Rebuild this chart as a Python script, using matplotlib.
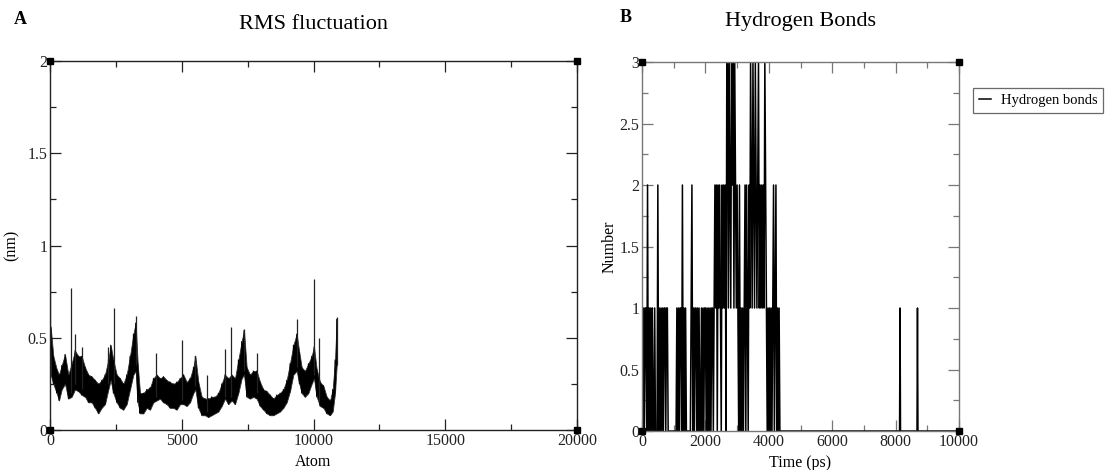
import numpy as np
import matplotlib
matplotlib.use("Agg")
import matplotlib.pyplot as plt
from matplotlib.ticker import MultipleLocator

plt.rcParams['font.family'] = ['Liberation Serif', 'DejaVu Serif']

# ---------------- Panel A: RMS fluctuation (band envelope) ----
rmsf_atom = [25, 126, 253, 342, 443, 569, 696, 822, 949, 1075, 1202, 1328, 1455,
             1581, 1708, 1834, 1961, 2087, 2214, 2302, 2404, 2530, 2657, 2783,
             2910, 3036, 3163, 3251, 3327, 3416, 3542, 3669, 3795, 3922, 4048,
             4175, 4301, 4428, 4554, 4681, 4807, 4934, 5060, 5187, 5313, 5440,
             5515, 5629, 5756, 5882, 6009, 6135, 6262, 6388, 6515, 6641, 6768,
             6894, 7021, 7147, 7274, 7362, 7463, 7590, 7716, 7843, 7970, 8096,
             8223, 8349, 8476, 8602, 8729, 8855, 8982, 9108, 9235, 9361, 9462,
             9551, 9677, 9804, 9930, 10019, 10120, 10247, 10373, 10500, 10626,
             10727, 10816, 10880]
rmsf_low = [0.30, 0.25, 0.20, 0.16, 0.22, 0.25, 0.17, 0.18, 0.22, 0.21, 0.19, 0.18,
            0.15, 0.15, 0.12, 0.09, 0.12, 0.14, 0.22, 0.27, 0.20, 0.15, 0.12, 0.11,
            0.14, 0.22, 0.30, 0.32, 0.15, 0.09, 0.09, 0.12, 0.11, 0.15, 0.16, 0.17,
            0.15, 0.14, 0.12, 0.12, 0.11, 0.14, 0.14, 0.13, 0.15, 0.20, 0.22, 0.12,
            0.08, 0.08, 0.07, 0.08, 0.09, 0.10, 0.13, 0.17, 0.14, 0.16, 0.14, 0.20,
            0.28, 0.30, 0.18, 0.17, 0.18, 0.17, 0.13, 0.11, 0.09, 0.08, 0.08, 0.09,
            0.10, 0.12, 0.15, 0.21, 0.30, 0.32, 0.25, 0.20, 0.18, 0.20, 0.25, 0.28,
            0.18, 0.13, 0.12, 0.09, 0.08, 0.10, 0.20, 0.35]
rmsf_high = [0.56, 0.40, 0.33, 0.30, 0.35, 0.41, 0.30, 0.36, 0.43, 0.40, 0.40, 0.34,
             0.30, 0.29, 0.27, 0.25, 0.27, 0.30, 0.38, 0.46, 0.38, 0.30, 0.28, 0.25,
             0.30, 0.40, 0.52, 0.58, 0.36, 0.20, 0.20, 0.22, 0.23, 0.28, 0.30, 0.28,
             0.29, 0.27, 0.26, 0.25, 0.26, 0.28, 0.30, 0.26, 0.28, 0.34, 0.40, 0.26,
             0.18, 0.17, 0.17, 0.18, 0.18, 0.20, 0.25, 0.30, 0.28, 0.30, 0.28, 0.38,
             0.48, 0.54, 0.34, 0.30, 0.32, 0.32, 0.26, 0.22, 0.21, 0.19, 0.17, 0.19,
             0.20, 0.22, 0.27, 0.36, 0.46, 0.52, 0.42, 0.34, 0.32, 0.36, 0.40, 0.45,
             0.33, 0.26, 0.24, 0.18, 0.16, 0.22, 0.38, 0.60]
spike_atom = [5, 800, 950, 1200, 2200, 2420, 3250, 4020, 5000, 5500, 5940, 6640,
              6870, 7360, 7850, 9360, 10000, 10200, 10880]
spike_val = [1.00, 0.77, 0.52, 0.45, 0.45, 0.66, 0.62, 0.42, 0.49, 0.40, 0.30,
             0.44, 0.56, 0.55, 0.42, 0.60, 0.82, 0.50, 0.61]
spike_base = [0.30, 0.20, 0.25, 0.22, 0.25, 0.25, 0.35, 0.18, 0.16, 0.24, 0.10,
              0.18, 0.18, 0.32, 0.20, 0.34, 0.30, 0.15, 0.35]

# ---------------- Panel B: Hydrogen bonds (25 ps sampling in active part) -------
hb_step = 25
hb_counts = [1, 0, 1, 0, 1, 1, 0, 2, 0, 1, 0, 1, 0, 1,
             0, 0, 1, 0, 0, 0,
             2, 0, 1, 0, 1, 0, 1, 0, 1, 1, 0, 1,
             1, 0, 0, 0, 0, 0, 0, 0, 0, 0, 0, 0,
             1, 0, 1, 0, 1, 1, 0, 2, 0, 1, 0, 1, 0,
             0, 0, 0, 0, 0, 1,
             2,
             0, 1, 0, 1, 1, 0, 1, 0, 1, 0, 0, 1, 0, 1, 0, 1, 1, 0, 1, 0, 1, 0,
             1, 0, 1, 1, 0, 1,
             2, 1, 2, 0, 2, 1, 2, 1, 0, 2, 1, 2, 1, 2, 0, 3,
             3, 1, 3, 2, 1, 3, 2, 3, 1, 3, 2, 1, 2, 1, 0, 2,
             0, 1, 0, 1, 0, 1, 2, 0, 2, 1, 0, 2, 1, 3,
             2, 1, 3, 2, 1, 3, 2, 1, 2, 3, 1, 2, 1, 2, 1, 2, 1, 3, 2, 1,
             0, 1, 0, 1, 0, 1, 0, 1, 2, 0, 1, 2, 0, 1, 0, 1, 0,
             0, 0]
hb_tail_time = [4425, 8125, 8140, 8155, 8675, 8690, 8705, 10000]
hb_tail_count = [0, 0, 1, 0, 0, 1, 0, 0]

hb_time = list(np.arange(len(hb_counts)) * hb_step) + hb_tail_time
hb_value = hb_counts + hb_tail_count

W, H = 1107, 470
fig = plt.figure(figsize=(W / 100, H / 100), dpi=100)

def frac(l, r, b, t):
    return [l / W, 1 - b / H, (r - l) / W, (b - t) / H]

axA = fig.add_axes(frac(50, 577, 430, 61))
axB = fig.add_axes(frac(642, 959, 431, 62))

# Panel A: dense band between the read envelopes, plus the isolated spikes
axA.fill_between(rmsf_atom, rmsf_low, rmsf_high, color='black', linewidth=0.6,
                 edgecolor='#333333')
zig_x = np.repeat(rmsf_atom, 2)
zig_y = np.column_stack([rmsf_low, rmsf_high]).ravel()
axA.plot(zig_x, zig_y, color='black', linewidth=0.7)
axA.vlines(spike_atom, spike_base, spike_val, color='#222222', linewidth=0.9)
axA.set_xlim(0, 20000)
axA.set_ylim(0, 2)
axA.xaxis.set_major_locator(MultipleLocator(5000))
axA.xaxis.set_minor_locator(MultipleLocator(2500))
axA.yaxis.set_minor_locator(MultipleLocator(0.25))
axA.set_yticks([0, 0.5, 1, 1.5, 2])
axA.set_yticklabels(['0', '0.5', '1', '1.5', '2'])
axA.set_xlabel('Atom', fontsize=11.5, labelpad=4)
axA.set_ylabel('(nm)', fontsize=11.5)
axA.yaxis.set_label_coords((20 - 50) / 527, 0.5)
axA.set_title('RMS fluctuation', fontsize=16, pad=23)

# Panel B
axB.plot(hb_time, hb_value, color='black', linewidth=1.1, label='Hydrogen bonds')
axB.set_xlim(0, 10000)
axB.set_ylim(0, 3)
axB.xaxis.set_major_locator(MultipleLocator(2000))
axB.xaxis.set_minor_locator(MultipleLocator(1000))
axB.yaxis.set_minor_locator(MultipleLocator(0.25))
axB.set_yticks([0, 0.5, 1, 1.5, 2, 2.5, 3])
axB.set_yticklabels(['0', '0.5', '1', '1.5', '2', '2.5', '3'])
axB.set_xlabel('Time (ps)', fontsize=11.5, labelpad=4)
axB.set_ylabel('Number', fontsize=11.5)
axB.yaxis.set_label_coords((618 - 642) / 317, 0.5)
axB.set_title('Hydrogen Bonds', fontsize=16, pad=26)

for ax, fc in ((axA, '#222222'), (axB, '#777777')):
    for s in ax.spines.values():
        s.set_color(fc)
        s.set_linewidth(1.0)
    ax.tick_params(which='both', direction='in', top=True, right=True,
                   labelsize=11.5, colors=fc, labelcolor='#222222', pad=2)
    ax.tick_params(which='major', length=8, width=0.9)
    ax.tick_params(which='minor', length=4.5, width=0.9)
    ax.plot([0, 1, 0, 1], [0, 0, 1, 1], 's', transform=ax.transAxes,
            markersize=5, color='black', clip_on=False, zorder=5)

leg = fig.legend(handles=axB.get_lines()[:1], loc='upper left',
                 bbox_to_anchor=(973 / W, 1 - 88 / H), fontsize=10.5,
                 frameon=True, fancybox=False, handlelength=0.8,
                 handletextpad=0.7, borderpad=0.4, borderaxespad=0)
leg.get_frame().set_edgecolor('#444444')
leg.get_frame().set_linewidth(0.9)

fig.text(20 / W, 1 - 20 / H, 'A', fontsize=13, fontweight='bold', ha='center', va='center')
fig.text(626 / W, 1 - 18 / H, 'B', fontsize=13, fontweight='bold', ha='center', va='center')

fig.savefig('out.png', dpi=100, facecolor='white')
